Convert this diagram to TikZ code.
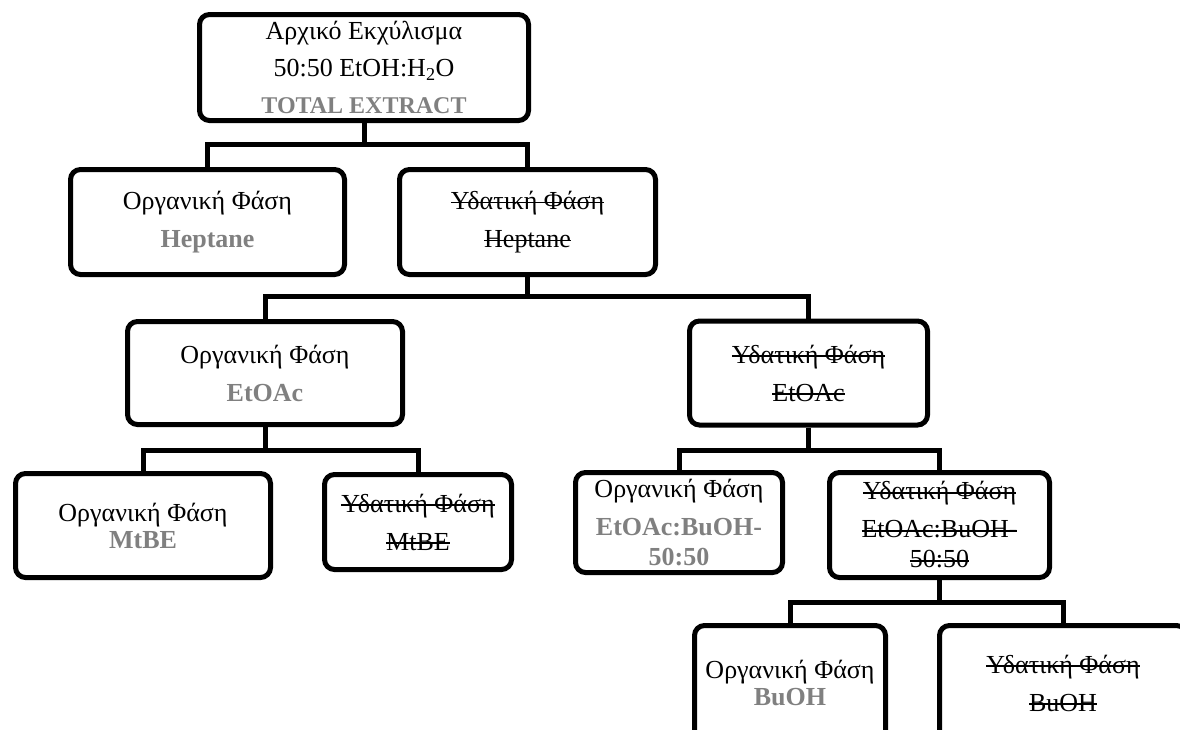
\documentclass[tikz,border=0pt]{standalone}
\usepackage{fontspec}
\setmainfont{Liberation Serif}
\definecolor{solvgray}{RGB}{128,128,128}
\newcommand{\solv}[1]{\textcolor{solvgray}{\textbf{#1}}}
% struck-through text: a rule laid over the boxed word group
\newsavebox{\strikebox}
\newcommand{\strikeout}[1]{\sbox{\strikebox}{#1}%
  \rlap{\rule[0.23em]{\wd\strikebox}{1.6pt}}\usebox{\strikebox}}
\begin{document}
\begin{tikzpicture}[x=1pt,y=-1pt,
  phase/.style={draw, line width=5pt, rounded corners=10pt, inner sep=0pt,
    align=center, font=\fontsize{26}{38}\selectfont},
  link/.style={line width=5pt, line join=miter}]
\useasboundingbox (0,0) rectangle (1180,729);
\clip (0,0) rectangle (1180,729);

% phase boxes
\node[phase, minimum width=329pt, minimum height=106pt] (total) at (364,67.5)
  {Αρχικό Εκχύλισμα\\[-1pt] 50:50 EtOH:H\textsubscript{2}O\\[-1pt]
   {\fontsize{24}{38}\selectfont\solv{TOTAL EXTRACT}}};
\node[phase, minimum width=274pt, minimum height=105pt] (orgH) at (207.5,222)
  {Οργανική Φάση\\ \solv{Heptane}};
\node[phase, minimum width=256pt, minimum height=105pt] (aqH) at (527.5,222)
  {\strikeout{Υδατική Φάση}\\ \strikeout{Heptane}};
\node[phase, minimum width=275pt, minimum height=103pt] (orgE) at (265,373)
  {Οργανική Φάση\\ \solv{EtOAc}};
\node[phase, minimum width=238pt, minimum height=104pt] (aqE) at (808.5,373)
  {\strikeout{Υδατική Φάση}\\ \strikeout{EtOAc}};
\node[phase, minimum width=255pt, minimum height=104pt] (orgM) at (143,525.5)
  {Οργανική Φάση\\[-11pt] \solv{MtBE}};
\node[phase, minimum width=187pt, minimum height=95pt] (aqM) at (418,522)
  {\strikeout{Υδατική Φάση}\\ \strikeout{MtBE}};
\node[phase, minimum width=207pt, minimum height=100pt] (orgEB) at (679,522.5)
  {Οργανική Φάση\\ \solv{EtOAc:BuOH-}\\[-8pt] \solv{50:50}};
\node[phase, minimum width=220pt, minimum height=105pt] (aqEB) at (939.5,525)
  {\strikeout{Υδατική Φάση}\\ \strikeout{EtOAc:BuOH-}\\[-8pt] \strikeout{50:50}};
\node[phase, minimum width=191pt, minimum height=115pt] (orgB) at (790,683)
  {Οργανική Φάση\\[-11pt] \solv{BuOH}};
\node[phase, minimum width=247pt, minimum height=115pt] (aqB) at (1063,683)
  {\strikeout{Υδατική Φάση}\\ \strikeout{BuOH}};

% levels of the branching bars
\coordinate (bar1) at (0,144);
\coordinate (bar2) at (0,296);
\coordinate (bar3) at (0,450);
\coordinate (bar4) at (0,602);

% connectors
\draw[link] (total.south) -- (total.south |- bar1);
\draw[link] (orgH.north) -- (orgH.north |- bar1) -| (aqH.north);
\draw[link] (aqH.south) -- (aqH.south |- bar2);
\draw[link] (orgE.north) -- (orgE.north |- bar2) -| (aqE.north);
\draw[link] (orgE.south) -- (orgE.south |- bar3);
\draw[link] (orgM.north) -- (orgM.north |- bar3) -| (aqM.north);
\draw[link] (aqE.south) -- (aqE.south |- bar3);
\draw[link] (orgEB.north) -- (orgEB.north |- bar3) -| (aqEB.north);
\draw[link] (aqEB.south) -- (aqEB.south |- bar4);
\draw[link] (orgB.north) -- (orgB.north |- bar4) -| (aqB.north);
\end{tikzpicture}
\end{document}
